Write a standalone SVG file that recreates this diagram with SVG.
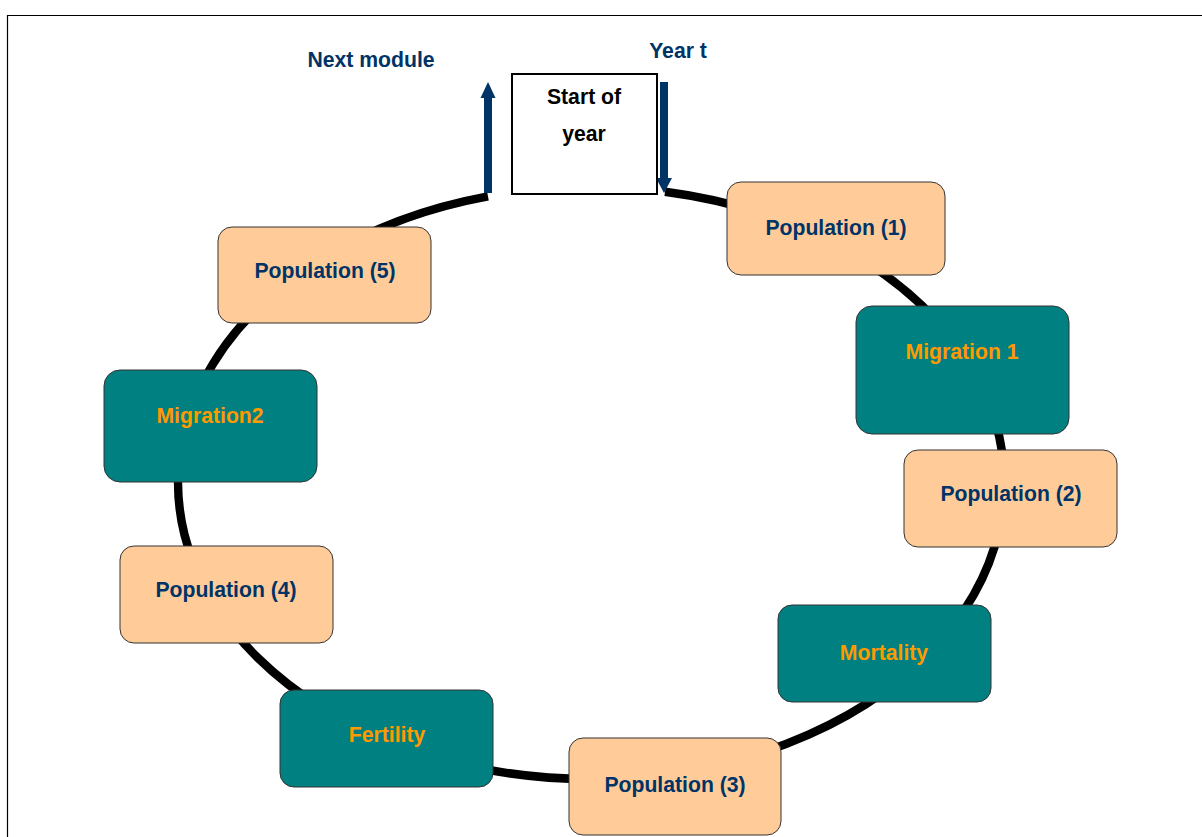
<svg xmlns="http://www.w3.org/2000/svg" width="1202" height="837" viewBox="0 0 1202 837">
<style>
.pop{fill:#FFCC99;stroke:#333;stroke-width:1}
.mod{fill:#008080;stroke:#333;stroke-width:1}
text{font-family:"Liberation Sans",Arial,sans-serif;font-weight:bold;font-size:21.2px;text-anchor:middle}
.tp{fill:#003366}
.tm{fill:#FF9900}
.tb{fill:#000}
</style>
<rect x="0" y="0" width="1202" height="837" fill="#fff"/>
<path d="M7.5,837 V15.5 H1202" fill="none" stroke="#000" stroke-width="1.2"/>
<g id="connectors">
<path d="M665,191.8 A413,296 0 1,1 488,196.4" fill="none" stroke="#000" stroke-width="8.5"/>
<path d="M488,193 V96" stroke="#003366" stroke-width="8" fill="none"/>
<polygon points="480.5,98 488,82 495.5,98" fill="#003366"/>
<path d="M664,82 V180" stroke="#003366" stroke-width="8" fill="none"/>
<polygon points="656,178 664,193 672,178" fill="#003366"/>
</g>
<g id="start">
<rect x="512" y="74" width="145" height="120" fill="#fff" stroke="#000" stroke-width="2"/>
<text class="tb" x="584" y="104">Start of</text>
<text class="tb" x="584" y="141">year</text>
</g>
<g id="label-next"><text class="tp" x="371" y="67">Next module</text></g>
<g id="label-year"><text class="tp" x="678" y="58">Year t</text></g>
<g id="pop1"><rect class="pop" x="727" y="182" width="218" height="93" rx="14"/><text class="tp" x="836" y="235">Population (1)</text></g>
<g id="mig1"><rect class="mod" x="856" y="306" width="213" height="128" rx="16"/><text class="tm" x="962" y="359">Migration 1</text></g>
<g id="pop2"><rect class="pop" x="904" y="450" width="213" height="97" rx="14"/><text class="tp" x="1011" y="501">Population (2)</text></g>
<g id="mortality"><rect class="mod" x="778" y="605" width="213" height="97" rx="14"/><text class="tm" x="884" y="660">Mortality</text></g>
<g id="pop3"><rect class="pop" x="569" y="738" width="212" height="97" rx="14"/><text class="tp" x="675" y="792">Population (3)</text></g>
<g id="fertility"><rect class="mod" x="280" y="690" width="213" height="97" rx="14"/><text class="tm" x="387" y="742">Fertility</text></g>
<g id="pop4"><rect class="pop" x="120" y="546" width="213" height="97" rx="14"/><text class="tp" x="226" y="597">Population (4)</text></g>
<g id="mig2"><rect class="mod" x="104" y="370" width="213" height="112" rx="16"/><text class="tm" x="210" y="423">Migration2</text></g>
<g id="pop5"><rect class="pop" x="218" y="227" width="213" height="96" rx="14"/><text class="tp" x="325" y="278">Population (5)</text></g>
</svg>
